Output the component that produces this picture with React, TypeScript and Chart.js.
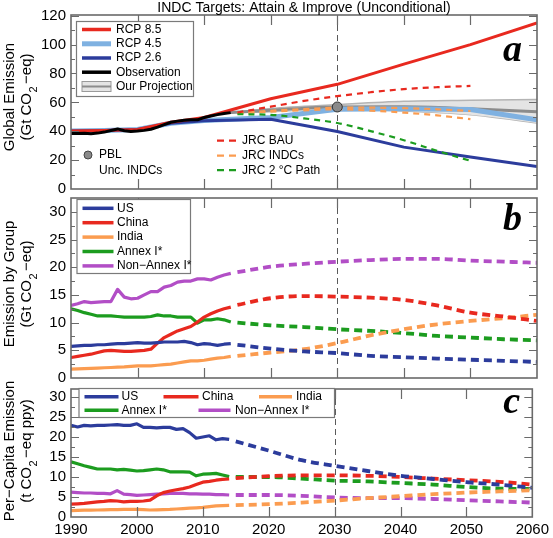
import React, { useEffect, useRef } from 'react';
import { Chart, registerables } from 'chart.js';

Chart.register(...registerables);

const FONT = '"Liberation Sans", Arial, Helvetica, sans-serif';
const SERIF = '"Liberation Serif", "Times New Roman", serif';

// ---------- shared x ----------
const xTicks = [1990, 2000, 2010, 2020, 2030, 2040, 2050, 2060];
const histYears = [1990, 1991, 1992, 1993, 1994, 1995, 1996, 1997, 1998, 1999, 2000, 2001, 2002,
  2003, 2004, 2005, 2006, 2007, 2008, 2009, 2010, 2011, 2012, 2013, 2014];
const projYears = [2015, 2020, 2025, 2030, 2035, 2040, 2045, 2050, 2055, 2060];

// ---------- panel a ----------
const obsGlobal = [38.5, 38.4, 38.6, 38.3, 38.7, 39.4, 40.5, 41.6, 40.3, 39.9, 40.1, 40.6, 41.4,
  42.9, 44.6, 46.2, 47.0, 47.6, 47.9, 47.9, 49.5, 50.6, 51.5, 52.3, 52.9];
const rcpYears = [1990, 1995, 2000, 2005, 2010, 2020, 2030, 2040, 2050, 2060];
const rcp85 = [40.2, 40.5, 41.2, 46.3, 49.5, 62.5, 72.5, 86.5, 100, 115];
const rcp45 = [40.2, 40.5, 41.2, 45.5, 47.5, 49.5, 55.3, 55.5, 55.0, 48.0];
const rcp26 = [40.2, 40.5, 41.2, 45.5, 47.2, 48.3, 39.8, 29.0, 22.2, 15.5];
const bandYears = [2014, 2020, 2030, 2040, 2050, 2060];
const projMid = [52.9, 54.5, 56.8, 56.9, 55.5, 53.5];
const projHigh = [52.9, 55.8, 58.5, 60.8, 61.5, 62.0];
const projLow = [52.9, 53.5, 55.6, 54.0, 51.4, 45.7];
const jrcYears = [2015, 2020, 2025, 2030, 2035, 2040, 2045, 2050];
const jrcBau = [53.0, 57.0, 61.0, 64.3, 67.0, 69.2, 70.5, 71.4];
const jrcIndcHigh = [52.5, 54.2, 55.3, 56.3, 56.3, 56.0, 55.2, 54.0];
const jrcIndcLow = [52.5, 53.5, 54.5, 55.2, 54.3, 52.9, 51.0, 48.4];
const jrc2C = [51.8, 51.4, 48.9, 45.7, 40.1, 33.8, 26.4, 19.5];
const pblYear = 2030;
const pblValue = 56.8;

// ---------- panel b (Gt CO2-eq) ----------
const usEm = [5.7, 5.8, 5.9, 5.9, 6.0, 6.0, 6.1, 6.2, 6.2, 6.3, 6.4, 6.3, 6.3, 6.4, 6.5, 6.5, 6.5, 6.6, 6.4, 6.0, 6.2, 6.1, 5.9, 6.1, 6.2];
const chinaEm = [3.7, 3.9, 4.1, 4.3, 4.6, 4.9, 5.0, 4.9, 4.8, 4.8, 4.9, 5.0, 5.2, 6.3, 7.3, 7.9, 8.5, 8.9, 9.3, 10.1, 11.0, 11.6, 12.1, 12.5, 12.8];
const indiaEm = [1.6, 1.65, 1.7, 1.75, 1.8, 1.85, 1.9, 1.95, 2.0, 2.1, 2.2, 2.2, 2.2, 2.3, 2.4, 2.5, 2.7, 2.9, 3.1, 3.1, 3.2, 3.4, 3.6, 3.7, 3.9];
const annexEm = [12.5, 12.2, 11.8, 11.5, 11.2, 11.2, 11.2, 11.1, 11.0, 11.0, 11.0, 11.0, 11.1, 11.4, 11.2, 11.2, 11.0, 11.0, 11.0, 9.9, 10.5, 10.5, 10.7, 10.5, 10.1];
const nonAnnexEm = [13.1, 13.4, 13.8, 13.6, 13.7, 13.8, 13.8, 16.0, 14.6, 14.3, 14.4, 15.0, 15.6, 15.6, 16.4, 16.7, 17.3, 17.5, 17.5, 17.9, 17.9, 17.7, 18.2, 18.6, 18.9];
const usEmProj = [6.0, 5.3, 4.8, 4.5, 4.0, 3.75, 3.5, 3.3, 3.1, 2.9];
const chinaEmProj = [13.2, 14.4, 14.8, 14.7, 14.5, 14.1, 13.1, 11.8, 11.1, 10.3];
const indiaEmProj = [4.0, 4.6, 5.2, 6.3, 7.7, 8.8, 9.7, 10.3, 10.8, 11.4];
const annexEmProj = [10.0, 9.5, 9.2, 8.8, 8.5, 8.1, 7.6, 7.3, 7.0, 6.8];
const nonAnnexEmProj = [19.1, 20.1, 20.6, 21.0, 21.3, 21.5, 21.5, 21.2, 21.0, 20.8];

// ---------- panel c (t CO2-eq per person per year) ----------
const usPc = [22.9, 22.5, 22.9, 22.8, 22.9, 22.9, 23.0, 23.1, 22.9, 22.9, 23.3, 22.4, 22.4, 22.3, 22.4, 22.4, 21.9, 22.1, 21.1, 19.7, 20.0, 20.3, 19.3, 19.6, 19.4];
const chinaPc = [3.2, 3.3, 3.4, 3.6, 3.8, 3.9, 4.1, 4.0, 3.8, 3.9, 3.9, 4.0, 4.2, 5.3, 6.1, 6.5, 6.8, 7.1, 7.5, 8.1, 8.7, 8.9, 9.2, 9.4, 9.5];
const indiaPc = [1.6, 1.65, 1.7, 1.7, 1.75, 1.8, 1.85, 1.85, 1.9, 1.9, 1.9, 1.85, 1.75, 1.8, 1.85, 1.9, 2.0, 2.1, 2.2, 2.3, 2.4, 2.6, 2.8, 2.85, 2.9];
const annexPc = [13.8, 13.3, 12.8, 12.4, 12.0, 12.0, 12.0, 11.8, 11.9, 11.7, 11.5, 11.6, 11.8, 12.0, 11.8, 11.3, 11.3, 11.3, 11.2, 10.3, 10.7, 10.8, 10.9, 10.5, 10.1];
const nonAnnexPc = [6.2, 6.1, 6.0, 6.0, 5.9, 5.9, 5.8, 6.6, 5.7, 5.6, 5.4, 5.5, 5.6, 5.7, 5.8, 5.9, 5.9, 5.9, 5.8, 5.8, 5.7, 5.7, 5.6, 5.6, 5.5];
const usPcProj = [18.9, 16.6, 14.2, 12.8, 11.5, 10.3, 9.5, 8.7, 8.1, 7.3];
const chinaPcProj = [9.7, 10.2, 10.4, 10.4, 10.3, 10.0, 9.6, 9.2, 8.8, 8.1];
const indiaPcProj = [2.95, 3.2, 3.6, 4.1, 4.7, 5.2, 5.7, 6.1, 6.4, 6.7];
const annexPcProj = [10.0, 10.0, 9.6, 9.1, 8.9, 8.5, 8.1, 7.5, 7.1, 7.0];
const nonAnnexPcProj = [5.5, 5.5, 5.3, 4.9, 4.7, 4.7, 4.5, 4.2, 3.9, 3.6];

// ---------- colours ----------
const RED = '#e8291f';
const LBLUE = '#7fb1e1';
const DBLUE = '#2c3c9c';
const ORANGE = '#fb9c50';
const GREEN = '#1c9c1f';
const PURPLE = '#b24ec6';
const GRAY = '#8c8c8c';
const FRAME = '#6a6a6a';

const pts = (xs: number[], ys: number[]) => xs.map((x, i) => ({ x, y: ys[i] }));

const line = (xs: number[], ys: number[], color: string, width: number, extra: any = {}) => ({
  data: pts(xs, ys),
  borderColor: color,
  backgroundColor: color,
  borderWidth: width,
  pointRadius: 0,
  fill: false,
  tension: 0,
  ...extra,
});

const DASH_BIG = [8, 5];
const DASH_SMALL = [6, 5];
const smooth = { cubicInterpolationMode: 'monotone' };

// ---------- drawing helpers ----------
function lgLine(ctx: CanvasRenderingContext2D, x1: number, x2: number, y: number, color: string, w: number, dash: number[] = []) {
  ctx.save();
  ctx.strokeStyle = color;
  ctx.lineWidth = w;
  ctx.setLineDash(dash);
  ctx.lineCap = 'butt';
  ctx.beginPath();
  ctx.moveTo(x1, y);
  ctx.lineTo(x2, y);
  ctx.stroke();
  ctx.restore();
}

function txt(ctx: CanvasRenderingContext2D, s: string, x: number, y: number, size = 12, align: CanvasTextAlign = 'left') {
  ctx.save();
  ctx.fillStyle = '#000';
  ctx.font = `${size}px ${FONT}`;
  ctx.textAlign = align;
  ctx.textBaseline = 'middle';
  ctx.fillText(s, x, y);
  ctx.restore();
}

function box(ctx: CanvasRenderingContext2D, x1: number, y1: number, x2: number, y2: number) {
  ctx.save();
  ctx.fillStyle = '#fff';
  ctx.fillRect(x1, y1, x2 - x1, y2 - y1);
  ctx.strokeStyle = '#7a7a7a';
  ctx.lineWidth = 1.2;
  ctx.strokeRect(x1, y1, x2 - x1, y2 - y1);
  ctx.restore();
}

function letter(ctx: CanvasRenderingContext2D, s: string, x: number, y: number) {
  ctx.save();
  ctx.fillStyle = '#000';
  ctx.font = `italic bold 38px ${SERIF}`;
  ctx.textAlign = 'right';
  ctx.textBaseline = 'alphabetic';
  ctx.fillText(s, x, y);
  ctx.restore();
}

function yTitle(ctx: CanvasRenderingContext2D, cy: number, l1: string, pre: string, sub: string, post: string) {
  ctx.save();
  ctx.fillStyle = '#000';
  ctx.textBaseline = 'middle';
  ctx.translate(10, cy);
  ctx.rotate(-Math.PI / 2);
  ctx.font = `15px ${FONT}`;
  ctx.textAlign = 'center';
  ctx.fillText(l1, 0, 0);
  ctx.restore();

  ctx.save();
  ctx.fillStyle = '#000';
  ctx.textBaseline = 'middle';
  ctx.translate(27, cy);
  ctx.rotate(-Math.PI / 2);
  ctx.font = `15px ${FONT}`;
  const w1 = ctx.measureText(pre).width;
  const w3 = ctx.measureText(post).width;
  ctx.font = `11px ${FONT}`;
  const w2 = ctx.measureText(sub).width;
  const gap = 3;
  let sx = -(w1 + w2 + gap + w3) / 2;
  ctx.textAlign = 'left';
  ctx.font = `15px ${FONT}`;
  ctx.fillText(pre, sx, 0);
  sx += w1;
  ctx.font = `11px ${FONT}`;
  ctx.fillText(sub, sx + 0.5, 7);
  sx += w2 + gap;
  ctx.font = `15px ${FONT}`;
  ctx.fillText(post, sx, 0);
  ctx.restore();
}

// ---------- panels ----------
type Panel = {
  top: number;
  height: number;
  padTop: number;
  padBottom: number;
  yMax: number;
  yLabels: number[];
  labelStep: number;
  minorStep: number;
  showX: boolean;
  datasets: any[];
  deco: (ctx: CanvasRenderingContext2D) => void;
};

const panelA: Panel = {
  top: 0,
  height: 203,
  padTop: 15,
  padBottom: 10,
  yMax: 120.5,
  yLabels: [0, 20, 40, 60, 80, 100, 120],
  labelStep: 20,
  minorStep: 10,
  showX: false,
  datasets: [
    line(bandYears, projHigh, '#b4b4b4', 1.5, { fill: '+1', backgroundColor: '#e4e4e4', order: 20, ...smooth }),
    line(bandYears, projLow, '#b4b4b4', 1.5, { order: 20, ...smooth }),
    line(bandYears, projMid, GRAY, 3, { order: 19, ...smooth }),
    line(rcpYears, rcp45, LBLUE, 5, { order: 18 }),
    line(rcpYears, rcp26, DBLUE, 3, { order: 17 }),
    line(rcpYears, rcp85, RED, 3, { order: 16 }),
    line(jrcYears, jrcIndcHigh, ORANGE, 2.2, { borderDash: DASH_SMALL, order: 15, ...smooth }),
    line(jrcYears, jrcIndcLow, ORANGE, 2.2, { borderDash: DASH_SMALL, order: 15, ...smooth }),
    line(jrcYears, jrcBau, RED, 2.2, { borderDash: DASH_SMALL, order: 14, ...smooth }),
    line(jrcYears, jrc2C, GREEN, 2.2, { borderDash: DASH_SMALL, order: 14, ...smooth }),
    line(histYears, obsGlobal, '#000', 3, { order: 3 }),
    {
      data: [{ x: pblYear, y: pblValue }],
      showLine: false,
      pointRadius: 5,
      pointBackgroundColor: '#8a8a8a',
      pointBorderColor: '#333',
      pointBorderWidth: 1,
      order: 1,
    },
  ],
  deco: (ctx) => {
    txt(ctx, 'INDC Targets: Attain & Improve (Unconditional)', 304, 8.5, 14, 'center');
    yTitle(ctx, 97, 'Global Emission', '(Gt CO', '2', '\u2212eq)');
    box(ctx, 76.5, 21.5, 193.5, 96.5);
    lgLine(ctx, 82, 111, 29.5, RED, 3.5);
    txt(ctx, 'RCP 8.5', 116, 29.5);
    lgLine(ctx, 82, 111, 43.8, LBLUE, 5);
    txt(ctx, 'RCP 4.5', 116, 43.8);
    lgLine(ctx, 82, 111, 58, DBLUE, 3.5);
    txt(ctx, 'RCP 2.6', 116, 58);
    lgLine(ctx, 82, 111, 72.2, '#000', 3.5);
    txt(ctx, 'Observation', 116, 72.2);
    ctx.save();
    ctx.fillStyle = '#e4e4e4';
    ctx.fillRect(82, 81.5, 29, 10);
    ctx.strokeStyle = '#9a9a9a';
    ctx.lineWidth = 1;
    ctx.strokeRect(82, 81.5, 29, 10);
    ctx.restore();
    lgLine(ctx, 82, 111, 86.5, GRAY, 2);
    txt(ctx, 'Our Projection', 116, 86.5);
    // PBL
    ctx.save();
    ctx.beginPath();
    ctx.arc(88, 155, 4, 0, Math.PI * 2);
    ctx.fillStyle = '#8a8a8a';
    ctx.fill();
    ctx.strokeStyle = '#444';
    ctx.lineWidth = 1;
    ctx.stroke();
    ctx.restore();
    txt(ctx, 'PBL', 99, 155);
    txt(ctx, 'Unc. INDCs', 99, 170.5);
    // JRC
    lgLine(ctx, 217, 236, 140.7, RED, 2.2, [7, 5]);
    txt(ctx, 'JRC BAU', 242, 140.7);
    lgLine(ctx, 217, 236, 155.7, ORANGE, 2.2, [7, 5]);
    txt(ctx, 'JRC INDCs', 242, 155.7);
    lgLine(ctx, 217, 236, 170.2, GREEN, 2.2, [7, 5]);
    txt(ctx, 'JRC 2 \u00B0C Path', 242, 170.2);
    letter(ctx, 'a', 522, 61);
  },
};

const dashed = (ys: number[], color: string) =>
  line(projYears, ys, color, 3.8, { borderDash: DASH_BIG, ...smooth });

const panelB: Panel = {
  top: 184,
  height: 208,
  padTop: 10,
  padBottom: 10,
  yMax: 32.5,
  yLabels: [0, 5, 10, 15, 20, 25, 30],
  labelStep: 5,
  minorStep: 2.5,
  showX: false,
  datasets: [
    line(histYears, usEm, DBLUE, 3.2),
    line(histYears, chinaEm, RED, 3.2),
    line(histYears, indiaEm, ORANGE, 3.2),
    line(histYears, annexEm, GREEN, 3.2),
    line(histYears, nonAnnexEm, PURPLE, 3.2),
    dashed(usEmProj, DBLUE),
    dashed(chinaEmProj, RED),
    dashed(indiaEmProj, ORANGE),
    dashed(annexEmProj, GREEN),
    dashed(nonAnnexEmProj, PURPLE),
  ],
  deco: (ctx) => {
    yTitle(ctx, 284, 'Emission by Group', '(Gt CO', '2', '\u2212eq)');
    box(ctx, 77, 199.5, 190.5, 273.5);
    const items: [string, string][] = [
      ['US', DBLUE], ['China', RED], ['India', ORANGE], ['Annex I*', GREEN], ['Non\u2212Annex I*', PURPLE],
    ];
    items.forEach(([s, c], i) => {
      const y = 208.3 + i * 14.4;
      lgLine(ctx, 82.5, 113.5, y, c, 3.5);
      txt(ctx, s, 117, y);
    });
    letter(ctx, 'b', 522, 230);
  },
};

const panelC: Panel = {
  top: 375,
  height: 163,
  padTop: 10,
  padBottom: 0,
  yMax: 32,
  yLabels: [0, 5, 10, 15, 20, 25, 30],
  labelStep: 5,
  minorStep: 2.5,
  showX: true,
  datasets: [
    line(histYears, usPc, DBLUE, 3.2),
    line(histYears, chinaPc, RED, 3.2),
    line(histYears, indiaPc, ORANGE, 3.2),
    line(histYears, annexPc, GREEN, 3.2),
    line(histYears, nonAnnexPc, PURPLE, 3.2),
    dashed(usPcProj, DBLUE),
    dashed(chinaPcProj, RED),
    dashed(indiaPcProj, ORANGE),
    dashed(annexPcProj, GREEN),
    dashed(nonAnnexPcProj, PURPLE),
  ],
  deco: (ctx) => {
    yTitle(ctx, 451, 'Per\u2212Capita Emission', '(t CO', '2', '\u2212eq ppy)');
    box(ctx, 79, 388.5, 334.5, 417.5);
    lgLine(ctx, 84.5, 118.5, 396.8, DBLUE, 3.5);
    txt(ctx, 'US', 121.5, 396.8);
    lgLine(ctx, 163.5, 198.5, 396.8, RED, 3.5);
    txt(ctx, 'China', 202, 396.8);
    lgLine(ctx, 259, 292, 396.8, ORANGE, 3.5);
    txt(ctx, 'India', 296, 396.8);
    lgLine(ctx, 84.5, 118.5, 410.2, GREEN, 3.5);
    txt(ctx, 'Annex I*', 121.5, 410.2);
    lgLine(ctx, 198.5, 230.5, 410.2, PURPLE, 3.5);
    txt(ctx, 'Non\u2212Annex I*', 235, 410.2);
    letter(ctx, 'c', 520, 413);
  },
};

const PANELS = [panelA, panelB, panelC];

function decoPlugin(p: Panel) {
  return {
    id: 'deco',
    beforeDatasetsDraw(chart: any) {
      const { ctx, chartArea: a, scales } = chart;
      const x = Math.round(scales.x.getPixelForValue(2030)) + 0.5;
      ctx.save();
      ctx.strokeStyle = '#5a5a5a';
      ctx.lineWidth = 1;
      ctx.setLineDash([6, 4]);
      ctx.beginPath();
      ctx.moveTo(x, a.top);
      ctx.lineTo(x, a.bottom);
      ctx.stroke();
      ctx.restore();
    },
    afterDraw(chart: any) {
      const { ctx, chartArea: a, scales } = chart;
      const sx = scales.x;
      const sy = scales.y;
      ctx.save();
      ctx.strokeStyle = FRAME;
      ctx.lineWidth = 1.2;
      ctx.beginPath();
      for (let yr = 2000; yr <= 2050; yr += 10) {
        const px = Math.round(sx.getPixelForValue(yr)) + 0.5;
        ctx.moveTo(px, a.top);
        ctx.lineTo(px, a.top + 10);
        ctx.moveTo(px, a.bottom);
        ctx.lineTo(px, a.bottom - 10);
      }
      for (let v = p.minorStep; v < p.yMax - 0.01; v += p.minorStep) {
        const r = v / p.labelStep;
        const major = Math.abs(r - Math.round(r)) < 1e-6;
        const len = major ? 8 : 4;
        const py = Math.round(sy.getPixelForValue(v)) + 0.5;
        ctx.moveTo(a.left, py);
        ctx.lineTo(a.left + len, py);
        ctx.moveTo(a.right, py);
        ctx.lineTo(a.right - len, py);
      }
      ctx.stroke();
      ctx.lineWidth = 1.6;
      ctx.strokeRect(a.left, a.top, a.right - a.left, a.bottom - a.top);
      ctx.restore();

      ctx.save();
      ctx.translate(0, -p.top);
      p.deco(ctx);
      ctx.restore();
    },
  };
}

function buildConfig(p: Panel): any {
  return {
    type: 'line',
    data: { datasets: p.datasets },
    options: {
      responsive: false,
      maintainAspectRatio: false,
      animation: false,
      devicePixelRatio: 1,
      layout: { padding: { left: 0, right: 16, top: p.padTop, bottom: p.padBottom } },
      plugins: { legend: { display: false }, tooltip: { enabled: false }, title: { display: false } },
      elements: { point: { radius: 0 }, line: { borderCapStyle: 'butt', borderJoinStyle: 'round' } },
      scales: {
        x: {
          type: 'linear',
          min: 1990,
          max: 2060,
          display: p.showX,
          grid: { display: false, drawTicks: false },
          border: { display: false },
          afterBuildTicks: (s: any) => { s.ticks = xTicks.map((v) => ({ value: v })); },
          afterFit: (s: any) => { s.height = p.showX ? 21 : 0; },
          ticks: {
            font: { family: FONT, size: 15 },
            color: '#000',
            padding: 4,
            maxRotation: 0,
            autoSkip: false,
            callback: (v: any) => String(v),
          },
        },
        y: {
          type: 'linear',
          min: 0,
          max: p.yMax,
          grid: { display: false, drawTicks: false },
          border: { display: false },
          afterBuildTicks: (s: any) => { s.ticks = p.yLabels.map((v) => ({ value: v })); },
          afterFit: (s: any) => { s.width = 71; },
          ticks: {
            font: { family: FONT, size: 15 },
            color: '#000',
            padding: 5,
            callback: (v: any) => String(v),
          },
        },
      },
    },
    plugins: [decoPlugin(p)],
  };
}

export default function App() {
  const r0 = useRef<HTMLCanvasElement>(null);
  const r1 = useRef<HTMLCanvasElement>(null);
  const r2 = useRef<HTMLCanvasElement>(null);
  const refs = [r0, r1, r2];

  useEffect(() => {
    const charts = PANELS.map((p, i) => new Chart(refs[i].current as HTMLCanvasElement, buildConfig(p)));
    return () => charts.forEach((c) => c.destroy());
  }, []);

  return (
    <div style={{ position: 'absolute', left: 0, top: 0, width: 553, height: 538, background: '#fff', overflow: 'hidden' }}>
      {PANELS.map((p, i) => (
        <canvas
          key={i}
          ref={refs[i]}
          width={553}
          height={p.height}
          style={{ position: 'absolute', left: 0, top: p.top, width: 553, height: p.height }}
        />
      ))}
    </div>
  );
}
